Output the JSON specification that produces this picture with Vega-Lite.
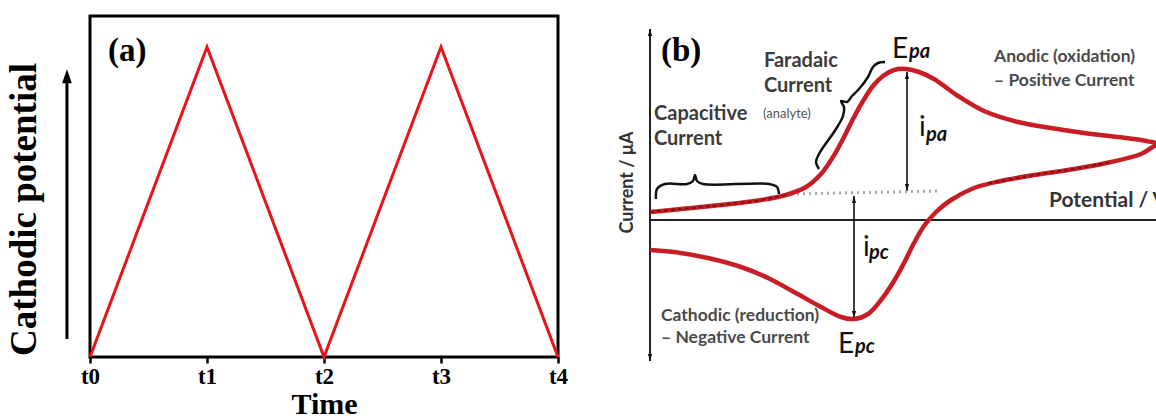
{
  "$schema": "https://vega.github.io/schema/vega-lite/v6.json",
  "padding": {"left": 3, "top": 14, "right": 0, "bottom": 0},
  "background": "white",
  "config": {"view": {"stroke": null}},
  "spacing": 92,
  "bounds": "flush",
  "datasets": {
    "tri": [{"t": 0, "v": 0}, {"t": 1, "v": 1}, {"t": 2, "v": 0}, {"t": 3, "v": 1}, {"t": 4, "v": 0}],
    "aArrow": [{"t": -0.197, "v": 0.058, "v2": 0.89}],
    "aHead": [{"t": -0.197, "v": 0.906}],
    "aText": [{"t": 0.154, "v": 0.987, "label": "(a)"}],
    "cv": [
      {"i": 1, "x": 0, "y": 0.8}, {"i": 2, "x": 3.1, "y": 1.1}, {"i": 3, "x": 7.1, "y": 1.5}, {"i": 4, "x": 11.1, "y": 2.0},
      {"i": 5, "x": 13.6, "y": 2.5}, {"i": 6, "x": 15.6, "y": 3.3}, {"i": 7, "x": 17.1, "y": 4.6}, {"i": 8, "x": 18.3, "y": 6.3},
      {"i": 9, "x": 19.3, "y": 8.1}, {"i": 10, "x": 20.3, "y": 10.1}, {"i": 11, "x": 21.3, "y": 11.9}, {"i": 12, "x": 22.3, "y": 13.4},
      {"i": 13, "x": 23.3, "y": 14.4}, {"i": 14, "x": 24.4, "y": 15.0}, {"i": 15, "x": 25.6, "y": 15.1}, {"i": 16, "x": 26.9, "y": 14.8},
      {"i": 17, "x": 28.4, "y": 14.1}, {"i": 18, "x": 30.8, "y": 12.4}, {"i": 19, "x": 33.4, "y": 10.9}, {"i": 20, "x": 36.8, "y": 9.8},
      {"i": 21, "x": 40.1, "y": 9.2}, {"i": 22, "x": 43.4, "y": 8.7}, {"i": 23, "x": 46.8, "y": 8.3}, {"i": 24, "x": 49.6, "y": 7.9},
      {"i": 25, "x": 50.7, "y": 7.6}, {"i": 26, "x": 50.1, "y": 7.2}, {"i": 27, "x": 49.1, "y": 6.6}, {"i": 28, "x": 46.1, "y": 5.8},
      {"i": 29, "x": 42.4, "y": 5.1}, {"i": 30, "x": 39.1, "y": 4.6}, {"i": 31, "x": 35.1, "y": 3.9}, {"i": 32, "x": 32.4, "y": 3.2},
      {"i": 33, "x": 30.1, "y": 2.0}, {"i": 34, "x": 28.6, "y": 0.8}, {"i": 35, "x": 27.4, "y": -0.6}, {"i": 36, "x": 26.4, "y": -2.3},
      {"i": 37, "x": 25.4, "y": -4.3}, {"i": 38, "x": 24.4, "y": -6.1}, {"i": 39, "x": 23.1, "y": -8.0}, {"i": 40, "x": 21.8, "y": -9.4},
      {"i": 41, "x": 20.4, "y": -9.9}, {"i": 42, "x": 19.1, "y": -9.7}, {"i": 43, "x": 17.1, "y": -8.7}, {"i": 44, "x": 14.4, "y": -7.2},
      {"i": 45, "x": 11.8, "y": -5.8}, {"i": 46, "x": 9.1, "y": -4.7}, {"i": 47, "x": 5.8, "y": -3.8}, {"i": 48, "x": 2.4, "y": -3.2},
      {"i": 49, "x": 0, "y": -3.0}
    ],
    "dashes": [
      {"seg": "capacitive", "i": 1, "x": 0, "y": 0.8}, {"seg": "capacitive", "i": 2, "x": 3.1, "y": 1.1},
      {"seg": "capacitive", "i": 3, "x": 7.1, "y": 1.5}, {"seg": "capacitive", "i": 4, "x": 11.1, "y": 2.0},
      {"seg": "capacitive", "i": 5, "x": 13.6, "y": 2.5},
      {"seg": "reverse", "i": 1, "x": 33.8, "y": 3.7}, {"seg": "reverse", "i": 2, "x": 35.1, "y": 3.9},
      {"seg": "reverse", "i": 3, "x": 39.1, "y": 4.6}, {"seg": "reverse", "i": 4, "x": 42.4, "y": 5.1},
      {"seg": "reverse", "i": 5, "x": 46.1, "y": 5.8}
    ],
    "base": [{"i": 1, "x": 14.1, "y": 2.6}, {"i": 2, "x": 28.8, "y": 2.9}],
    "braces": [
      {"brace": "capacitive", "i": 1, "x": 0.6, "y": 2.1}, {"brace": "capacitive", "i": 2, "x": 0.7, "y": 3.1},
      {"brace": "capacitive", "i": 3, "x": 1.5, "y": 3.6}, {"brace": "capacitive", "i": 4, "x": 3.7, "y": 3.6},
      {"brace": "capacitive", "i": 5, "x": 4.3, "y": 3.9}, {"brace": "capacitive", "i": 6, "x": 4.5, "y": 4.5},
      {"brace": "capacitive", "i": 7, "x": 4.7, "y": 3.9}, {"brace": "capacitive", "i": 8, "x": 5.3, "y": 3.6},
      {"brace": "capacitive", "i": 9, "x": 11.9, "y": 3.6}, {"brace": "capacitive", "i": 10, "x": 12.7, "y": 3.3},
      {"brace": "capacitive", "i": 11, "x": 12.9, "y": 2.6},
      {"brace": "faradaic", "i": 1, "x": 16.9, "y": 5.1}, {"brace": "faradaic", "i": 2, "x": 16.6, "y": 5.8},
      {"brace": "faradaic", "i": 3, "x": 16.9, "y": 6.6}, {"brace": "faradaic", "i": 4, "x": 18.6, "y": 9.1},
      {"brace": "faradaic", "i": 5, "x": 19.3, "y": 10.4}, {"brace": "faradaic", "i": 6, "x": 19.4, "y": 11.3},
      {"brace": "faradaic", "i": 7, "x": 19.1, "y": 11.9}, {"brace": "faradaic", "i": 8, "x": 19.7, "y": 11.8},
      {"brace": "faradaic", "i": 9, "x": 20.2, "y": 12.4}, {"brace": "faradaic", "i": 10, "x": 20.9, "y": 13.1},
      {"brace": "faradaic", "i": 11, "x": 21.8, "y": 14.3}, {"brace": "faradaic", "i": 12, "x": 22.3, "y": 15.3},
      {"brace": "faradaic", "i": 13, "x": 22.8, "y": 15.7}, {"brace": "faradaic", "i": 14, "x": 23.5, "y": 15.8}
    ],
    "rules": [
      {"name": "x-axis", "x": 0, "x2": 50.7, "y": 0, "y2": 0},
      {"name": "y-axis", "x": 0, "x2": 0, "y": -14.1, "y2": 19.1},
      {"name": "ipa", "x": 25.7, "x2": 25.7, "y": 2.9, "y2": 14.8},
      {"name": "ipc", "x": 20.4, "x2": 20.4, "y": -9.8, "y2": 2.4}
    ],
    "heads": [
      {"name": "y-axis", "x": 0, "y": 18.75, "dir": "up"}, {"name": "y-axis", "x": 0, "y": -13.75, "dir": "down"},
      {"name": "ipa", "x": 25.7, "y": 14.45, "dir": "up"}, {"name": "ipa", "x": 25.7, "y": 3.25, "dir": "down"},
      {"name": "ipc", "x": 20.4, "y": 2.05, "dir": "up"}, {"name": "ipc", "x": 20.4, "y": -9.45, "dir": "down"}
    ],
    "notes": [
      {"kind": "label", "x": 11.4, "y": 15.9, "text": "Faradaic"},
      {"kind": "label", "x": 11.4, "y": 13.4, "text": "Current"},
      {"kind": "label", "x": 0.4, "y": 10.6, "text": "Capacitive"},
      {"kind": "label", "x": 0.4, "y": 8.1, "text": "Current"},
      {"kind": "small", "x": 34.4, "y": 16.3, "text": "Anodic (oxidation)"},
      {"kind": "small", "x": 34.4, "y": 13.9, "text": "– Positive Current"},
      {"kind": "small", "x": 1.1, "y": -9.6, "text": "Cathodic (reduction)"},
      {"kind": "small", "x": 1.1, "y": -11.8, "text": "– Negative Current"},
      {"kind": "tiny", "x": 11.3, "y": 10.6, "text": "(analyte)"},
      {"kind": "axis", "x": 39.9, "y": 1.9, "text": "Potential / V"},
      {"kind": "panel", "x": 1.1, "y": 16.9, "text": "(b)"},
      {"kind": "big", "x": 24.2, "y": 16.2, "text": "E"},
      {"kind": "big", "x": 18.8, "y": -13.3, "text": "E"},
      {"kind": "big", "x": 26.9, "y": 8.4, "text": "i"},
      {"kind": "big", "x": 21.3, "y": -3.6, "text": "i"},
      {"kind": "sub", "x": 25.9, "y": 16.2, "text": "pa"},
      {"kind": "sub", "x": 20.5, "y": -13.3, "text": "pc"},
      {"kind": "sub", "x": 27.6, "y": 7.9, "text": "pa"},
      {"kind": "sub", "x": 21.9, "y": -3.9, "text": "pc"}
    ]
  },
  "hconcat": [
    {
      "width": 468,
      "height": 341,
      "view": {"stroke": "black", "strokeWidth": 3},
      "encoding": {
        "x": {
          "field": "t", "type": "quantitative", "title": "Time",
          "scale": {"domain": [0, 4], "nice": false, "zero": false},
          "axis": {
            "values": [0, 1, 2, 3, 4], "labelExpr": "'t' + datum.value",
            "domain": false, "grid": false, "ticks": true, "tickSize": 6, "tickWidth": 2.5, "tickColor": "black",
            "labelFont": "Liberation Serif", "labelFontWeight": "bold", "labelFontSize": 23, "labelColor": "black",
            "labelPadding": 2, "labelFlush": false,
            "titleFont": "Liberation Serif", "titleFontWeight": "bold", "titleFontSize": 30, "titleColor": "black", "titlePadding": 1
          }
        },
        "y": {
          "field": "v", "type": "quantitative", "title": "Cathodic potential",
          "scale": {"domain": [0, 1.1], "nice": false, "zero": false},
          "axis": {
            "domain": false, "ticks": false, "labels": false, "grid": false,
            "titleFont": "Liberation Serif", "titleFontWeight": "bold", "titleFontSize": 37, "titleColor": "black",
            "titleX": -66, "titleY": 193, "titleAngle": -90, "titleAlign": "center", "titleBaseline": "middle"
          }
        }
      },
      "layer": [
        {"data": {"name": "tri"}, "mark": {"type": "line", "color": "#e8141b", "strokeWidth": 3}},
        {"data": {"name": "aArrow"}, "mark": {"type": "rule", "color": "black", "strokeWidth": 3}, "encoding": {"y2": {"field": "v2"}}},
        {"data": {"name": "aHead"}, "mark": {"type": "point", "shape": "M-0.7,1L0,-1L0.7,1Z", "size": 196, "filled": true, "color": "black", "opacity": 1}},
        {"data": {"name": "aText"}, "mark": {"type": "text", "align": "left", "baseline": "middle", "font": "Liberation Serif", "fontWeight": "bold", "fontSize": 33, "color": "black"}, "encoding": {"text": {"field": "label"}}}
      ]
    },
    {
      "width": 507,
      "height": 341,
      "view": {"stroke": null},
      "encoding": {
        "x": {"field": "x", "type": "quantitative", "scale": {"domain": [0, 50.7], "nice": false, "zero": false}, "axis": null},
        "y": {
          "field": "y", "type": "quantitative", "title": "Current / μA",
          "scale": {"domain": [-13.7, 20.4], "nice": false, "zero": false},
          "axis": {
            "domain": false, "ticks": false, "labels": false, "grid": false,
            "titleFont": "Lato", "titleFontWeight": "bold", "titleFontSize": 18, "titleColor": "#333333",
            "titleX": -23, "titleY": 166, "titleAngle": -90, "titleAlign": "center", "titleBaseline": "middle"
          }
        }
      },
      "layer": [
        {"data": {"name": "rules"}, "transform": [{"filter": "datum.name == 'x-axis' || datum.name == 'y-axis'"}],
         "mark": {"type": "rule", "color": "#222222", "strokeWidth": 2}, "encoding": {"x2": {"field": "x2"}, "y2": {"field": "y2"}}},
        {"data": {"name": "rules"}, "transform": [{"filter": "datum.name == 'ipa' || datum.name == 'ipc'"}],
         "mark": {"type": "rule", "color": "#111111", "strokeWidth": 1.6}, "encoding": {"x2": {"field": "x2"}, "y2": {"field": "y2"}}},
        {"data": {"name": "base"}, "mark": {"type": "line", "color": "#a8a8a8", "strokeWidth": 3, "strokeDash": [2, 4]}, "encoding": {"order": {"field": "i"}}},
        {"data": {"name": "cv"}, "mark": {"type": "line", "color": "#c81d25", "strokeWidth": 4.5, "interpolate": "catmull-rom", "clip": true}, "encoding": {"order": {"field": "i"}}},
        {"data": {"name": "dashes"}, "mark": {"type": "line", "color": "#7a1010", "strokeWidth": 2, "strokeDash": [4, 3], "interpolate": "catmull-rom"}, "encoding": {"order": {"field": "i"}, "detail": {"field": "seg"}}},
        {"data": {"name": "braces"}, "mark": {"type": "line", "color": "#111111", "strokeWidth": 2.5, "interpolate": "catmull-rom"}, "encoding": {"order": {"field": "i"}, "detail": {"field": "brace"}}},
        {"data": {"name": "heads"}, "mark": {"type": "point", "size": 49, "filled": true, "color": "#111111", "opacity": 1},
         "encoding": {"shape": {"field": "dir", "type": "nominal", "scale": {"domain": ["up", "down"], "range": ["M-0.6,1L0,-1L0.6,1Z", "M-0.6,-1L0,1L0.6,-1Z"]}, "legend": null}}},
        {"data": {"name": "notes"}, "transform": [{"filter": "datum.kind == 'label'"}],
         "mark": {"type": "text", "align": "left", "baseline": "middle", "font": "Lato", "fontWeight": "bold", "fontSize": 20, "color": "#3c3c3c"}, "encoding": {"text": {"field": "text"}}},
        {"data": {"name": "notes"}, "transform": [{"filter": "datum.kind == 'small'"}],
         "mark": {"type": "text", "align": "left", "baseline": "middle", "font": "Lato", "fontWeight": "bold", "fontSize": 17.5, "color": "#4a4a4a"}, "encoding": {"text": {"field": "text"}}},
        {"data": {"name": "notes"}, "transform": [{"filter": "datum.kind == 'tiny'"}],
         "mark": {"type": "text", "align": "left", "baseline": "middle", "font": "Lato", "fontSize": 13, "color": "#555555"}, "encoding": {"text": {"field": "text"}}},
        {"data": {"name": "notes"}, "transform": [{"filter": "datum.kind == 'axis'"}],
         "mark": {"type": "text", "align": "left", "baseline": "middle", "font": "Lato", "fontWeight": "bold", "fontSize": 21, "color": "#333333", "clip": true}, "encoding": {"text": {"field": "text"}}},
        {"data": {"name": "notes"}, "transform": [{"filter": "datum.kind == 'panel'"}],
         "mark": {"type": "text", "align": "left", "baseline": "middle", "font": "Liberation Serif", "fontWeight": "bold", "fontSize": 33, "color": "black"}, "encoding": {"text": {"field": "text"}}},
        {"data": {"name": "notes"}, "transform": [{"filter": "datum.kind == 'big'"}],
         "mark": {"type": "text", "align": "left", "baseline": "alphabetic", "font": "Lato", "fontSize": 28, "color": "#111111"}, "encoding": {"text": {"field": "text"}}},
        {"data": {"name": "notes"}, "transform": [{"filter": "datum.kind == 'sub'"}],
         "mark": {"type": "text", "align": "left", "baseline": "alphabetic", "font": "Lato", "fontWeight": "bold", "fontStyle": "italic", "fontSize": 20, "color": "#111111"}, "encoding": {"text": {"field": "text"}}}
      ]
    }
  ]
}
